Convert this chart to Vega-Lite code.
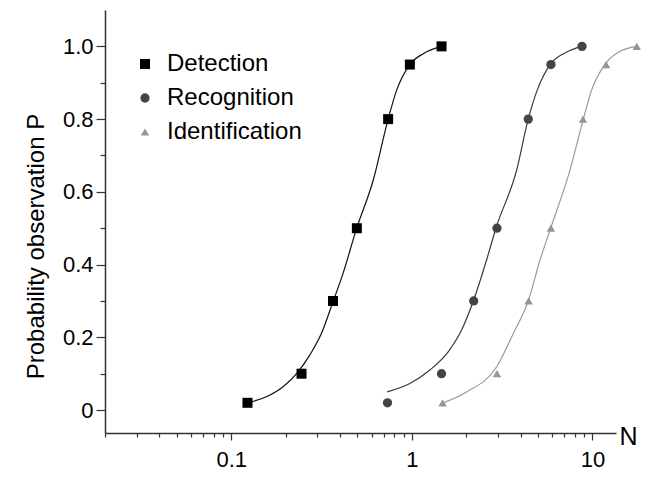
{
  "$schema": "https://vega.github.io/schema/vega-lite/v6.json",
  "width": 511,
  "height": 423,
  "autosize": {"type": "none"},
  "padding": {"left": 105, "top": 10, "right": 56, "bottom": 48},
  "background": "white",
  "config": {
    "view": {"stroke": null},
    "font": "Liberation Sans",
    "axis": {"grid": false, "domainColor": "#333", "domainWidth": 1.5, "tickColor": "#333", "tickWidth": 1.2, "labelColor": "black", "titleColor": "black", "titleFontWeight": "normal"}
  },
  "datasets": {
    "points": [
      {"series": "Detection", "N": 0.123, "P": 0.02},
      {"series": "Detection", "N": 0.245, "P": 0.10},
      {"series": "Detection", "N": 0.366, "P": 0.30},
      {"series": "Detection", "N": 0.496, "P": 0.50},
      {"series": "Detection", "N": 0.739, "P": 0.80},
      {"series": "Detection", "N": 0.975, "P": 0.95},
      {"series": "Detection", "N": 1.46, "P": 1.00},
      {"series": "Recognition", "N": 0.733, "P": 0.02},
      {"series": "Recognition", "N": 1.46, "P": 0.10},
      {"series": "Recognition", "N": 2.20, "P": 0.30},
      {"series": "Recognition", "N": 2.96, "P": 0.50},
      {"series": "Recognition", "N": 4.41, "P": 0.80},
      {"series": "Recognition", "N": 5.89, "P": 0.95},
      {"series": "Recognition", "N": 8.75, "P": 1.00},
      {"series": "Identification", "N": 1.48, "P": 0.02},
      {"series": "Identification", "N": 2.96, "P": 0.10},
      {"series": "Identification", "N": 4.43, "P": 0.30},
      {"series": "Identification", "N": 5.89, "P": 0.50},
      {"series": "Identification", "N": 8.86, "P": 0.80},
      {"series": "Identification", "N": 11.9, "P": 0.95},
      {"series": "Identification", "N": 17.6, "P": 1.00}
    ],
    "curves": [
      {"series": "Detection", "N": 0.123, "P": 0.02},
      {"series": "Detection", "N": 0.1566, "P": 0.0365},
      {"series": "Detection", "N": 0.1936, "P": 0.064},
      {"series": "Detection", "N": 0.2344, "P": 0.105},
      {"series": "Detection", "N": 0.272, "P": 0.151},
      {"series": "Detection", "N": 0.316, "P": 0.211},
      {"series": "Detection", "N": 0.366, "P": 0.298},
      {"series": "Detection", "N": 0.416, "P": 0.376},
      {"series": "Detection", "N": 0.494, "P": 0.499},
      {"series": "Detection", "N": 0.611, "P": 0.632},
      {"series": "Detection", "N": 0.739, "P": 0.80},
      {"series": "Detection", "N": 0.823, "P": 0.879},
      {"series": "Detection", "N": 0.975, "P": 0.95},
      {"series": "Detection", "N": 1.156, "P": 0.98},
      {"series": "Detection", "N": 1.46, "P": 1.00},
      {"series": "Recognition", "N": 0.73, "P": 0.05},
      {"series": "Recognition", "N": 0.975, "P": 0.073},
      {"series": "Recognition", "N": 1.258, "P": 0.11},
      {"series": "Recognition", "N": 1.589, "P": 0.16},
      {"series": "Recognition", "N": 1.885, "P": 0.22},
      {"series": "Recognition", "N": 2.19, "P": 0.30},
      {"series": "Recognition", "N": 2.59, "P": 0.412},
      {"series": "Recognition", "N": 2.92, "P": 0.50},
      {"series": "Recognition", "N": 3.80, "P": 0.659},
      {"series": "Recognition", "N": 4.41, "P": 0.80},
      {"series": "Recognition", "N": 4.94, "P": 0.879},
      {"series": "Recognition", "N": 5.87, "P": 0.952},
      {"series": "Recognition", "N": 7.04, "P": 0.982},
      {"series": "Recognition", "N": 8.76, "P": 1.00},
      {"series": "Identification", "N": 1.49, "P": 0.02},
      {"series": "Identification", "N": 2.01, "P": 0.05},
      {"series": "Identification", "N": 2.95, "P": 0.119},
      {"series": "Identification", "N": 3.64, "P": 0.21},
      {"series": "Identification", "N": 4.41, "P": 0.30},
      {"series": "Identification", "N": 5.12, "P": 0.412},
      {"series": "Identification", "N": 5.87, "P": 0.50},
      {"series": "Identification", "N": 7.50, "P": 0.659},
      {"series": "Identification", "N": 8.90, "P": 0.80},
      {"series": "Identification", "N": 9.88, "P": 0.879},
      {"series": "Identification", "N": 11.7, "P": 0.95},
      {"series": "Identification", "N": 13.9, "P": 0.984},
      {"series": "Identification", "N": 17.6, "P": 1.00}
    ]
  },
  "encoding": {
    "x": {
      "field": "N", "type": "quantitative",
      "scale": {"type": "log", "domain": [0.02, 13.5], "nice": false},
      "axis": {
        "title": "N",
        "titleFont": "Liberation Sans",
        "labelFont": "Liberation Sans",
        "titleFontSize": 25,
        "titleAngle": 0,
        "titleX": 523,
        "titleY": 3,
        "titleAlign": "center",
        "titleBaseline": "middle",
        "values": [0.02,0.03,0.04,0.05,0.06,0.07,0.08,0.09,0.1,0.2,0.3,0.4,0.5,0.6,0.7,0.8,0.9,1,2,3,4,5,6,7,8,9,10],
        "labelExpr": "datum.value == 0.1 ? '0.1' : (datum.value == 1 ? '1' : (datum.value == 10 ? '10' : ''))",
        "labelFontSize": 22,
        "labelPadding": 9,
        "labelFlush": false,
        "labelOverlap": false,
        "tickSize": {"condition": {"test": "datum.value == 0.1 || datum.value == 1 || datum.value == 10", "value": 7}, "value": 4}
      }
    },
    "y": {
      "field": "P", "type": "quantitative",
      "scale": {"domain": [-0.063, 1.1], "nice": false, "zero": false},
      "axis": {
        "title": "Probability observation P",
        "titleFont": "Liberation Sans",
        "labelFont": "Liberation Sans",
        "titleFontSize": 24,
        "titleAngle": -90,
        "titleX": -69,
        "titleY": 236,
        "titleAlign": "center",
        "titleBaseline": "middle",
        "values": [0,0.1,0.2,0.3,0.4,0.5,0.6,0.7,0.8,0.9,1.0],
        "labelExpr": "datum.value == 0 ? '0' : (round(datum.value * 10) % 2 == 0 ? format(datum.value, '.1f') : '')",
        "labelFontSize": 22,
        "labelPadding": 3,
        "labelOverlap": false,
        "labelFlush": false,
        "tickSize": {"condition": {"test": "round(datum.value * 10) % 2 == 0", "value": 9}, "value": 5}
      }
    }
  },
  "layer": [
    {
      "data": {"name": "curves"},
      "transform": [{"filter": "datum.series == 'Detection'"}],
      "mark": {"type": "line", "interpolate": "monotone", "strokeWidth": 1.2, "clip": false, "color": "#111111"}
    },
    {
      "data": {"name": "curves"},
      "transform": [{"filter": "datum.series == 'Recognition'"}],
      "mark": {"type": "line", "interpolate": "monotone", "strokeWidth": 1.2, "clip": false, "color": "#3a3a3a"}
    },
    {
      "data": {"name": "curves"},
      "transform": [{"filter": "datum.series == 'Identification'"}],
      "mark": {"type": "line", "interpolate": "monotone", "strokeWidth": 1.2, "clip": false, "color": "#9a9a9a"}
    },
    {
      "data": {"name": "points"},
      "mark": {"type": "point", "filled": true, "opacity": 1, "clip": false},
      "encoding": {
        "color": {
          "field": "series", "type": "nominal",
          "scale": {"domain": ["Detection", "Recognition", "Identification"], "range": ["#000000", "#444444", "#959595"]},
          "legend": {
            "title": null,
            "orient": "none",
            "legendX": 28,
            "legendY": 42,
            "labelFontSize": 24,
            "labelFont": "Liberation Sans",
            "labelColor": "black",
            "symbolOpacity": 1,
            "rowPadding": 10,
            "labelOffset": 10
          }
        },
        "shape": {
          "field": "series", "type": "nominal",
          "scale": {"domain": ["Detection", "Recognition", "Identification"], "range": ["square", "circle", "M-1,0.85L1,0.85L0,-0.85Z"]}
        },
        "size": {
          "field": "series", "type": "nominal",
          "scale": {"domain": ["Detection", "Recognition", "Identification"], "range": [100, 72, 170]}
        }
      }
    }
  ]
}
